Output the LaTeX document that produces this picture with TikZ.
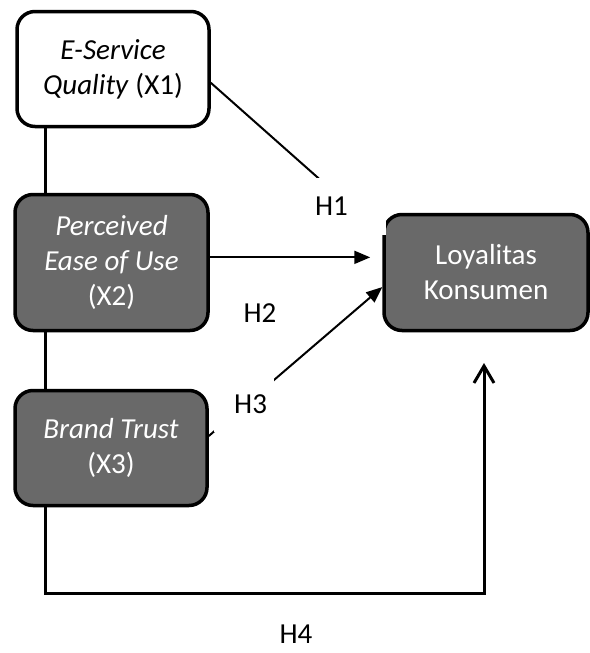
\documentclass[tikz,border=0pt]{standalone}
\usepackage{fontspec}
\setmainfont{Carlito}
\usetikzlibrary{arrows.meta}
\definecolor{boxgray}{RGB}{105,105,105}

\begin{document}
\begin{tikzpicture}
[   x=1pt,y=-1pt,
    vbox/.style={draw=black,fill=#1,line width=3.5pt,rounded corners=18pt,align=center,inner sep=0pt,font=\fontsize{29}{35}\selectfont},
    hlabel/.style={font=\fontsize{29}{35}\selectfont,inner sep=0pt},
    hcover/.style={fill=white,font=\fontsize{29}{35}\selectfont,inner ysep=0pt},
    link/.style={line width=2pt,-{Triangle[length=16pt,width=13pt]}},
    spine/.style={line width=3pt},
]
    \useasboundingbox (0,0) rectangle (589,653);
    %
    \node[vbox=white,minimum width=192pt,minimum height=115pt] (x1) at (113,69) {\textit{E-Service}\\\textit{Quality} (X1)};
    \node[vbox=boxgray,text=white,minimum width=193pt,minimum height=136pt] (x2) at (111.5,262.5) {\textit{Perceived}\\\textit{Ease of Use}\\(X2)};
    \node[vbox=boxgray,text=white,minimum width=192pt,minimum height=115pt] (x3) at (111,448) {\textit{Brand Trust}\\(X3)};
    \node[vbox=boxgray,text=white,minimum width=204pt,minimum height=116pt] (loyal) at (486,272.5) {Loyalitas\\Konsumen};

    \coordinate (corner) at (45,593);
    \coordinate (tip) at (484,363);

    % left line and H4
    \draw[spine] (x1.south -| corner) -- (x2.north -| corner);
    \draw[spine] (x2.south -| corner) -- (x3.north -| corner);
    \draw[spine,-{Straight Barb[length=17pt,width=20pt]}] (x3.south -| corner) -- (corner) -- (corner -| tip) -- (tip);

    % H1 - H3
    \draw[link] (x1.-8) -- (loyal.160);
    \draw[link,shorten >=12pt] (x2.3) -- (x2.3 -| loyal.west);
    \draw[link] (x3.7) -- (loyal.188);

    \node[hcover,text width=61pt,align=left,inner xsep=10pt,minimum height=57pt] (h1) at (345.5,206.5) {H1};
    \node[hlabel] (h2) at (260,313) {H2};
    \node[hcover,text width=46pt,align=right,inner xsep=7pt,minimum height=55pt] (h3) at (244,404.5) {H3};
    \node[hlabel] (h4) at (296,634) {H4};
\end{tikzpicture}
\end{document}
